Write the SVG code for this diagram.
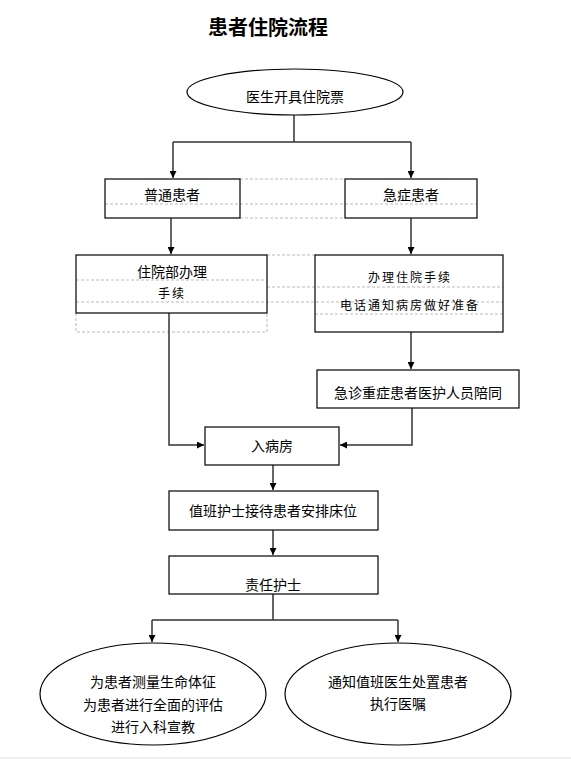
<svg xmlns="http://www.w3.org/2000/svg" width="571" height="760" viewBox="0 0 571 760">
<style>
.n{fill:#fff;stroke:#000;stroke-width:1.2}
.t{font-family:"Noto Sans CJK SC","Noto Sans",sans-serif;font-size:14px;fill:#000;text-anchor:middle}
.s{font-family:"Noto Sans CJK SC","Noto Sans",sans-serif;font-size:12px;fill:#000;text-anchor:middle;letter-spacing:2px}
.c{fill:none;stroke:#333;stroke-width:1.5}
.d{fill:none;stroke:#bbb;stroke-width:1;stroke-dasharray:3,2}
</style>
<defs>
<marker id="a" viewBox="0 0 10 10" refX="10" refY="5" markerWidth="7" markerHeight="7" orient="auto" markerUnits="userSpaceOnUse"><path d="M0,0L10,5L0,10z" fill="#000"/></marker>
</defs>
<rect width="571" height="760" fill="#fff"/>
<text x="268" y="35" style="font-family:'Noto Sans CJK SC',sans-serif;font-size:20px;font-weight:bold;text-anchor:middle">患者住院流程</text>

<g id="grid">
<path class="d" d="M240,179H345M240,218H345M105,204H477M267,255H315M76,280H267M267,287H503M76,302H503M315,314H503M76,313V332H267V313"/>
</g>

<g id="connectors">
<path class="c" d="M294,115V142M173,142H411"/>
<path class="c" d="M173,142V178" marker-end="url(#a)"/>
<path class="c" d="M411,142V178" marker-end="url(#a)"/>
<path class="c" d="M171,218V254" marker-end="url(#a)"/>
<path class="c" d="M411,218V254" marker-end="url(#a)"/>
<path class="c" d="M411,332V369" marker-end="url(#a)"/>
<path class="c" d="M169,313V445H204" marker-end="url(#a)"/>
<path class="c" d="M412,408V445H340" marker-end="url(#a)"/>
<path class="c" d="M273,465V490" marker-end="url(#a)"/>
<path class="c" d="M273,530V555" marker-end="url(#a)"/>
<path class="c" d="M273,594V620M152,620H398"/>
<path class="c" d="M152,620V642" marker-end="url(#a)"/>
<path class="c" d="M398,620V642" marker-end="url(#a)"/>
</g>

<g id="start"><ellipse class="n" cx="295" cy="92" rx="108" ry="23"/><text class="t" x="295" y="102">医生开具住院票</text></g>
<g id="normal"><rect class="n" x="105" y="179" width="135" height="39" fill-opacity="0"/><text class="t" x="172" y="200">普通患者</text></g>
<g id="urgent"><rect class="n" x="345" y="179" width="132" height="39" fill-opacity="0"/><text class="t" x="411" y="200">急症患者</text></g>
<g id="admit"><rect class="n" x="76" y="255" width="191" height="58" fill-opacity="0"/><text class="t" x="172" y="277">住院部办理</text><text class="s" x="172" y="298">手续</text></g>
<g id="urgentproc"><rect class="n" x="315" y="255" width="188" height="77" fill-opacity="0"/><text class="s" x="410" y="282">办理住院手续</text><text class="s" x="410" y="310">电话通知病房做好准备</text></g>
<g id="escort"><rect class="n" x="317" y="370" width="202" height="38"/><text class="t" x="418" y="398">急诊重症患者医护人员陪同</text></g>
<g id="ward"><rect class="n" x="205" y="427" width="134" height="38"/><text class="t" x="272" y="451">入病房</text></g>
<g id="duty"><rect class="n" x="169" y="491" width="209" height="39"/><text class="t" x="273" y="516">值班护士接待患者安排床位</text></g>
<g id="resp"><rect class="n" x="169" y="556" width="209" height="38"/><text class="t" x="273" y="590">责任护士</text></g>
<g id="care"><ellipse class="n" cx="153" cy="694" rx="113" ry="51"/><text class="t" x="153" y="687">为患者测量生命体征</text><text class="t" x="153" y="710">为患者进行全面的评估</text><text class="t" x="153" y="732">进行入科宣教</text></g>
<g id="notify"><ellipse class="n" cx="398" cy="694" rx="113" ry="51"/><text class="t" x="398" y="687">通知值班医生处置患者</text><text class="t" x="398" y="709">执行医嘱</text></g>
<path d="M0,758H571" stroke="#ddd" stroke-width="1"/>
</svg>
